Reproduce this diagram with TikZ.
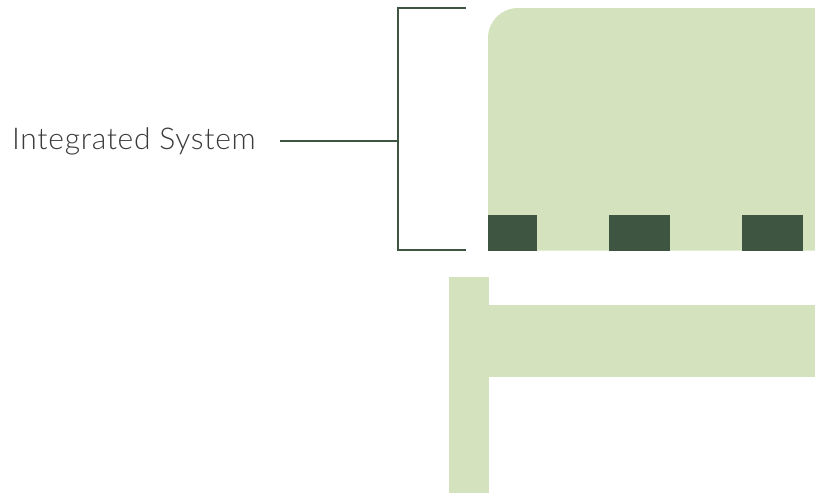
\documentclass[tikz,border=0pt]{standalone}
\usepackage{fontspec}
\setmainfont{Lato Light}[LetterSpace=2.3]
\definecolor{lightg}{HTML}{D4E3BD}
\definecolor{darkg}{HTML}{3E5641}
\definecolor{txt}{HTML}{3A3A3A}
\begin{document}
\begin{tikzpicture}[x=1pt,y=-1pt,
  brk/.style={draw=darkg,line width=2pt}]
\useasboundingbox (0,0) rectangle (815,493);
% main block with rounded top-left corner
\fill[lightg] (488,250.7) -- (488,38) arc[start angle=180,end angle=270,radius=30] -- (815,8) -- (815,250.7) -- cycle;
\fill[darkg] (488,215) rectangle (537,250.7);
\fill[darkg] (609,215) rectangle (670,250.7);
\fill[darkg] (742,215) rectangle (803,250.7);
% lower frame
\fill[lightg] (449,277) rectangle (489,493);
\fill[lightg] (489,305) rectangle (815,376.7);
% bracket
\coordinate (bt) at (466,8);
\coordinate (bb) at (466,250);
\coordinate (bm) at (398,141);
\draw[brk] (bt) -- (398,8) -- (398,250) -- (bb);
\node[anchor=base west,inner sep=0pt,text=txt,font=\fontsize{30}{34}\selectfont] (lbl) at (12,149) {Integrated System};
\coordinate (ls) at (280,141);
\draw[brk] (ls) -- (bm);
\end{tikzpicture}
\end{document}
